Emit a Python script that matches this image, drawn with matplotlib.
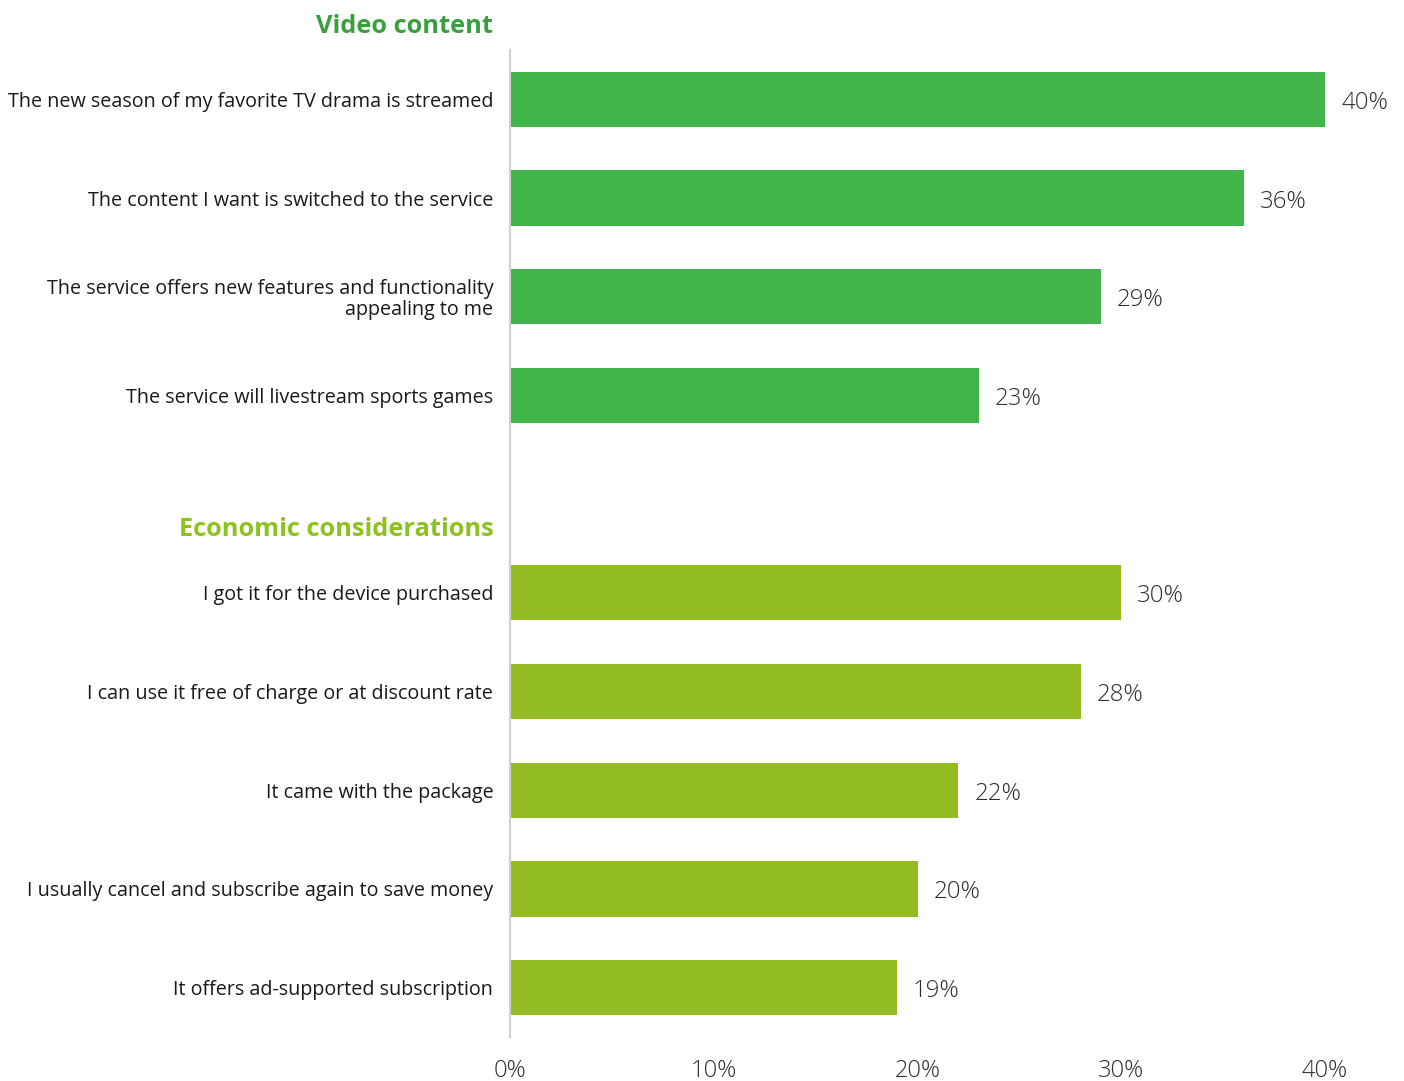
import matplotlib.pyplot as plt

plt.rcParams["font.family"] = ["Open Sans", "DejaVu Sans"]

video_labels = [
    "The new season of my favorite TV drama is streamed",
    "The content I want is switched to the service",
    "The service offers new features and functionality\nappealing to me",
    "The service will livestream sports games",
]
video_values = [40, 36, 29, 23]

economic_labels = [
    "I got it for the device purchased",
    "I can use it free of charge or at discount rate",
    "It came with the package",
    "I usually cancel and subscribe again to save money",
    "It offers ad-supported subscription",
]
economic_values = [30, 28, 22, 20, 19]

x_ticks = [0, 10, 20, 30, 40]

green = "#41b44a"
lime = "#92bc22"

fig = plt.figure(figsize=(14.04, 10.81), dpi=100)
ax = fig.add_axes([510 / 1404, 1 - 1037 / 1081, 815 / 1404, 987 / 1081])

# one empty slot separates the two groups
video_pos = list(range(len(video_values)))
econ_pos = [len(video_values) + 1 + i for i in range(len(economic_values))]

ax.barh(video_pos, video_values, height=0.56, color=green)
ax.barh(econ_pos, economic_values, height=0.56, color=lime)

for pos, val in zip(video_pos + econ_pos, video_values + economic_values):
    ax.annotate(f"{val}%", (val, pos), xytext=(11.5, -2.5), textcoords="offset points",
                va="center", ha="left", fontsize=17.3, fontweight="light", color="#2e2e2e")

ax.set_yticks(video_pos + econ_pos)
ax.set_yticklabels(video_labels + economic_labels, fontsize=14.2, color="#1a1a1a",
                   linespacing=1.05)
ax.set_ylim(9.5, -0.5)
ax.set_xlim(0, 40)
ax.set_xticks(x_ticks)
ax.set_xticklabels([f"{t}%" for t in x_ticks], fontsize=17, fontweight="light",
                   color="#2e2e2e")
ax.tick_params(axis="y", length=0, pad=12)
ax.tick_params(axis="x", length=0, pad=15.5)

for side in ["top", "right", "bottom"]:
    ax.spines[side].set_visible(False)
ax.spines["left"].set_color("#d0d0d0")
ax.spines["left"].set_linewidth(1.5)

# group headers
ax.text(-0.82, -0.74, "Video content", ha="right", va="center", fontsize=18.3,
        fontweight="bold", color="#3a9f3f")
ax.text(-0.82, 4.36, "Economic considerations", ha="right", va="center", fontsize=18.3,
        fontweight="bold", color="#8dc21f")

fig.savefig("out.png", dpi=100)
